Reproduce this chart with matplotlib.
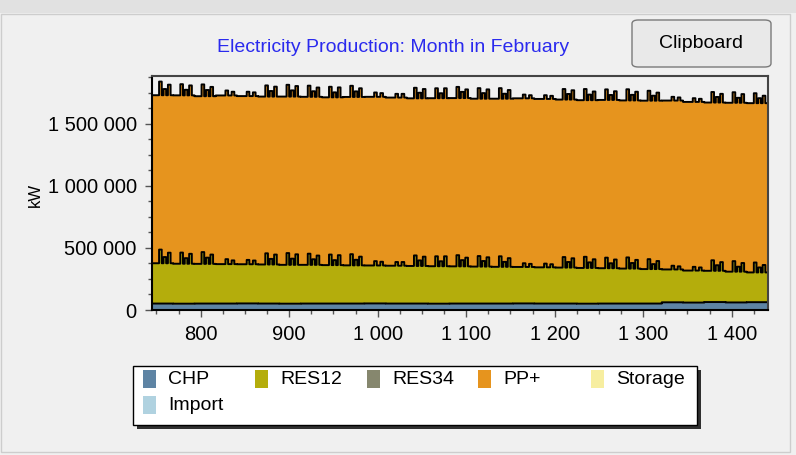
import numpy as np
import matplotlib
matplotlib.use('Agg')
import matplotlib.pyplot as plt
from matplotlib.patches import Rectangle, FancyBboxPatch
from matplotlib.ticker import MultipleLocator, FuncFormatter

plt.rcParams['font.family'] = ['Liberation Sans', 'DejaVu Sans']

W, H = 796, 455

# Hours of February (leap year: hour 745 .. 1440), values in 1000 kW
hours = np.arange(745, 1441)

chp_daily = [52, 51, 52, 52, 53, 52, 51, 52, 52, 52, 53, 52, 52, 51, 52,
             52, 52, 53, 52, 52, 51, 52, 52, 52, 62, 60, 64, 61, 63]

pp_daily = [1355, 1358, 1352, 1360, 1356, 1354, 1357, 1355, 1353, 1358,
            1360, 1356, 1352, 1355, 1357, 1354, 1356, 1360, 1358, 1355,
            1353, 1357, 1356, 1358, 1362, 1360, 1357, 1362, 1365]

# RES12 night-time level per day
res12_daily = [325, 322, 320, 318, 316, 315, 313, 312, 310, 308, 306, 305,
               303, 302, 300, 298, 296, 294, 292, 290, 288, 285, 282, 278,
               265, 258, 252, 248, 240]

# short RES12 peaks: start hour and extra output (3 hours long)
peak_hours = [753, 758, 763, 777, 782, 787, 801, 806, 811, 828, 835, 852, 859,
              873, 878, 883, 897, 902, 907, 921, 926, 931, 945, 950, 955,
              969, 974, 979, 996, 1003, 1020, 1027, 1041, 1046, 1051,
              1065, 1070, 1075, 1089, 1094, 1099, 1113, 1118, 1123,
              1137, 1142, 1147, 1164, 1171, 1188, 1195, 1209, 1214, 1219,
              1233, 1238, 1243, 1257, 1262, 1267, 1281, 1286, 1291,
              1305, 1310, 1315, 1332, 1339, 1356, 1363, 1377, 1382, 1387,
              1401, 1406, 1411, 1425, 1430, 1435]
peak_extra = [110, 50, 85, 90, 45, 80, 95, 50, 75, 40, 30, 35, 30,
              90, 45, 80, 95, 50, 85, 90, 45, 75, 85, 40, 80,
              90, 45, 70, 35, 30, 30, 30, 85, 45, 75,
              80, 40, 80, 90, 50, 70, 85, 45, 75,
              85, 40, 70, 30, 25, 30, 25, 85, 45, 75,
              90, 45, 70, 85, 40, 70, 90, 45, 70,
              80, 40, 65, 30, 25, 30, 25, 85, 45, 70,
              85, 40, 70, 80, 40, 60]

labels = ['CHP', 'RES12', 'RES34', 'PP+', 'Storage', 'Import']
colors = ['#5e84a4', '#b4ad0c', '#86876e', '#e6941e', '#f7eea0', '#b0d2e0']

chp = np.repeat(chp_daily, 24) * 1000.0
pp = np.repeat(pp_daily, 24) * 1000.0
res = np.repeat(res12_daily, 24).astype(float)
for h, v in zip(peak_hours, peak_extra):
    res[h - 745:h - 742] += v
res *= 1000.0


def px(x, y):
    return x / W, 1 - y / H


fig = plt.figure(figsize=(W / 100, H / 100), dpi=100, facecolor='#f0f0f0')

# window chrome
fig.patches.append(Rectangle(px(0, 13), 1, 13 / H, transform=fig.transFigure,
                             facecolor='#e1e1e1', edgecolor='none'))
fig.patches.append(Rectangle(px(1, 452), 789 / W, 438 / H, transform=fig.transFigure,
                             facecolor='none', edgecolor='#cdcdcd', lw=1))

ax = fig.add_axes([152 / W, (H - 310) / H, 616 / W, 234 / H])
ax.set_facecolor('#f0f0f0')

edges = np.append(hours, 1441)
bottom = np.zeros(len(hours))
for series, color in [(chp, colors[0]), (res, colors[1]), (pp, colors[3])]:
    top = bottom + series
    ax.fill_between(edges, np.append(bottom, bottom[-1]), np.append(top, top[-1]),
                    step='post', color=color, lw=0)
    ax.step(edges, np.append(top, top[-1]), where='post', color='black', lw=1.4)
    bottom = top

ax.set_xlim(745, 1441)
ax.set_ylim(0, 1887000)
ax.xaxis.set_major_locator(MultipleLocator(100))
ax.xaxis.set_minor_locator(MultipleLocator(25))
ax.yaxis.set_major_locator(MultipleLocator(500000))
ax.yaxis.set_minor_locator(MultipleLocator(125000))
fmt = FuncFormatter(lambda v, p: f"{int(v):,}".replace(",", " "))
ax.xaxis.set_major_formatter(fmt)
ax.yaxis.set_major_formatter(fmt)
ax.tick_params(which='major', direction='out', length=5, width=1, labelsize=14.5,
               color='#555555', pad=6)
ax.tick_params(which='minor', direction='out', length=3, width=1, color='#555555')
for s in ax.spines.values():
    s.set_color('#444444')
    s.set_linewidth(1.5)
ax.spines['left'].set_color('black')
ax.spines['bottom'].set_color('black')

fig.text(*px(35, 195), 'kW', rotation=90, ha='center', va='center', fontsize=12)
fig.text(*px(393, 48), 'Electricity Production: Month in February',
         ha='center', va='center', fontsize=14, color='#2a2aee')

# Clipboard button
fig.patches.append(FancyBboxPatch(px(632, 67), 139 / W, 47 / H,
                                  boxstyle='round,pad=0,rounding_size=0.008',
                                  transform=fig.transFigure,
                                  facecolor='#e9e9e9', edgecolor='#7a7a7a', lw=1))
fig.text(*px(701, 43), 'Clipboard', ha='center', va='center', fontsize=14)

# legend box with shadow
fig.patches.append(Rectangle(px(137, 429), 564 / W, 59 / H, transform=fig.transFigure,
                             facecolor='#303030', edgecolor='none'))
fig.patches.append(Rectangle(px(133, 425), 564 / W, 59 / H, transform=fig.transFigure,
                             facecolor='white', edgecolor='black', lw=1))
slots = [(143, 379), (255, 379), (367, 379), (478, 379), (591, 379), (143, 405)]
for (x, y), lab, col in zip(slots, labels, colors):
    fig.patches.append(Rectangle(px(x, y + 9), 13 / W, 18 / H, transform=fig.transFigure,
                                 facecolor=col, edgecolor='none'))
    fig.text(*px(x + 25, y), lab, ha='left', va='center', fontsize=14)

fig.savefig('out.png', dpi=100, facecolor=fig.get_facecolor())
